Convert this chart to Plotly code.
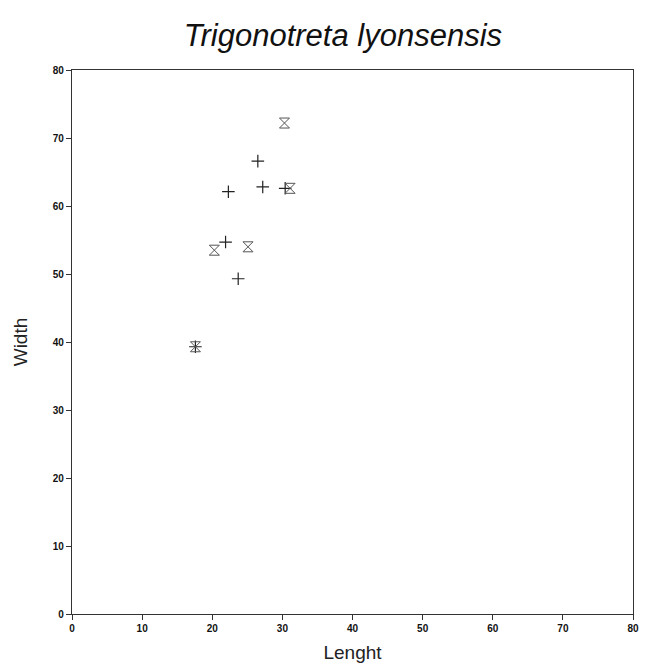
import plotly.graph_objects as go

plus_x = [22.3, 26.5, 27.2, 21.9, 23.7, 30.4, 17.6]
plus_y = [62.1, 66.6, 62.8, 54.7, 49.3, 62.6, 39.3]
hg_x = [30.3, 31.1, 20.3, 25.1, 17.6]
hg_y = [72.2, 62.6, 53.5, 54.0, 39.3]
ticks = [0, 10, 20, 30, 40, 50, 60, 70, 80]

fig = go.Figure()
fig.add_trace(go.Scatter(x=plus_x, y=plus_y, mode="markers",
                         marker=dict(symbol="cross-thin-open", size=9, color="#222222",
                                     line=dict(width=1.2, color="#222222"))))
fig.add_trace(go.Scatter(x=hg_x, y=hg_y, mode="markers",
                         marker=dict(symbol="hourglass-open", size=10, color="#555555",
                                     line=dict(width=1, color="#555555"))))

axis_common = dict(range=[0, 80], tickvals=ticks, showgrid=False, zeroline=False,
                   showline=True, linecolor="#333333", linewidth=1.2, mirror=True,
                   ticks="outside", ticklen=5, tickcolor="#333333", automargin=False,
                   ticklabeloverflow="allow",
                   tickfont=dict(family="Liberation Sans", size=10, color="#111111",
                                 weight="bold"))
fig.update_layout(
    width=632, height=656,
    margin=dict(l=64, r=7, t=62, b=50),
    paper_bgcolor="white", plot_bgcolor="white",
    showlegend=False,
    title=dict(text="<i>Trigonotreta lyonsensis</i>", x=0.53, xanchor="center",
               y=0.958, yanchor="middle",
               font=dict(family="Liberation Sans", size=31, color="#111111")),
    xaxis=dict(axis_common, title=dict(text="Lenght", standoff=12,
               font=dict(family="Liberation Sans", size=19, color="#222222"))),
    yaxis=dict(axis_common, title=dict(text="Width", standoff=20,
               font=dict(family="Liberation Sans", size=19, color="#222222"))),
)
fig.write_html("out.html")
